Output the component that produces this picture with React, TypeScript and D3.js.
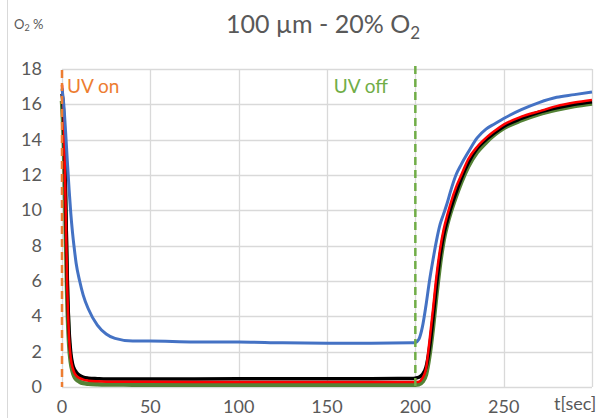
import React, { useEffect, useRef } from "react";
import * as d3 from "d3";

// time points (sec) shared by all four series
const times = [
  0, 1, 2, 3, 4, 5, 6, 7, 8, 10, 12, 15, 20, 25, 30, 40, 50, 75, 100, 125, 150, 175, 198, 200, 202,
  204, 206, 208, 210, 212, 214, 216, 218, 220, 223, 226, 230, 235, 240, 245, 250, 260, 270, 280, 290,
  300,
];

const blueVals = [
  16.9, 16.0, 14.5, 12.8, 11.2, 9.8, 8.7, 7.8, 7.0, 6.0, 5.2, 4.4, 3.5, 3.0, 2.75, 2.6, 2.6, 2.55,
  2.55, 2.5, 2.48, 2.48, 2.5, 2.52, 2.7, 3.4, 4.6, 6.0, 7.2, 8.3, 9.2, 9.8, 10.4, 11.1, 12.0, 12.6,
  13.3, 14.1, 14.6, 14.9, 15.2, 15.7, 16.1, 16.4, 16.55, 16.7,
];
const redVals = [
  17.1, 15.2, 10.5, 5.5, 2.8, 1.6, 1.1, 0.8, 0.65, 0.5, 0.42, 0.36, 0.32, 0.3, 0.3, 0.3, 0.3, 0.29,
  0.28, 0.28, 0.28, 0.28, 0.28, 0.28, 0.3, 0.5, 1.0, 2.6, 4.4, 6.3, 7.8, 8.9, 9.7, 10.4, 11.3, 12.0,
  12.9, 13.6, 14.1, 14.5, 14.85, 15.3, 15.6, 15.9, 16.1, 16.25,
];
const blackVals = [
  16.6, 15.3, 11.0, 6.0, 3.2, 1.9, 1.3, 1.0, 0.85, 0.65, 0.55, 0.5, 0.47, 0.45, 0.45, 0.45, 0.45,
  0.45, 0.46, 0.46, 0.47, 0.47, 0.48, 0.5, 0.55, 0.7, 1.1, 2.2, 3.9, 5.8, 7.4, 8.6, 9.4, 10.1, 11.0,
  11.8, 12.7, 13.5, 14.0, 14.4, 14.75, 15.2, 15.55, 15.8, 16.0, 16.15,
];
const greenVals = [
  16.2, 14.0, 9.5, 5.0, 2.5, 1.4, 0.9, 0.6, 0.45, 0.3, 0.22, 0.18, 0.15, 0.14, 0.14, 0.13, 0.13,
  0.13, 0.13, 0.13, 0.13, 0.13, 0.13, 0.13, 0.15, 0.3, 0.7, 1.8, 3.4, 5.3, 7.0, 8.3, 9.2, 9.9, 10.8,
  11.6, 12.5, 13.3, 13.85, 14.3, 14.65, 15.1, 15.45, 15.7, 15.9, 16.05,
];

const yTicks = [0, 2, 4, 6, 8, 10, 12, 14, 16, 18];
const xTicks = [0, 50, 100, 150, 200, 250];
const xGrid = [0, 50, 100, 150, 200, 250, 300];

const W = 604;
const H = 418;
const FONT = "Lato, 'Open Sans', sans-serif";

export default function App() {
  const ref = useRef(null);

  useEffect(() => {
    const svg = d3.select(ref.current);
    svg.selectAll("*").remove();

    const x = d3.scaleLinear().domain([0, 300]).range([62, 592]);
    const y = d3.scaleLinear().domain([0, 18]).range([387, 69]);

    // outer chart border (left edge visible)
    svg
      .append("line")
      .attr("x1", 7.5)
      .attr("x2", 7.5)
      .attr("y1", 0)
      .attr("y2", H)
      .attr("stroke", "#d9d9d9")
      .attr("stroke-width", 1);

    // gridlines
    svg
      .append("g")
      .selectAll("line")
      .data(yTicks)
      .join("line")
      .attr("x1", x(0))
      .attr("x2", x(300))
      .attr("y1", (d) => Math.round(y(d)) + 0.5)
      .attr("y2", (d) => Math.round(y(d)) + 0.5)
      .attr("stroke", "#d9d9d9")
      .attr("stroke-width", 1.3);
    svg
      .append("g")
      .selectAll("line")
      .data(xGrid)
      .join("line")
      .attr("x1", (d) => Math.round(x(d)) + 0.5)
      .attr("x2", (d) => Math.round(x(d)) + 0.5)
      .attr("y1", y(18))
      .attr("y2", y(0))
      .attr("stroke", "#d9d9d9")
      .attr("stroke-width", 1.3);

    // tick labels
    svg
      .append("g")
      .selectAll("text")
      .data(yTicks)
      .join("text")
      .attr("x", 42)
      .attr("y", (d) => y(d) + 6)
      .attr("text-anchor", "end")
      .attr("font-family", FONT)
      .attr("font-size", 18)
      .attr("fill", "#595959")
      .text((d) => d);
    svg
      .append("g")
      .selectAll("text")
      .data(xTicks)
      .join("text")
      .attr("x", (d) => x(d))
      .attr("y", 413)
      .attr("text-anchor", "middle")
      .attr("font-family", FONT)
      .attr("font-size", 18)
      .attr("fill", "#595959")
      .text((d) => d);

    svg
      .append("text")
      .attr("x", 554)
      .attr("y", 410)
      .attr("font-family", FONT)
      .attr("font-size", 18)
      .attr("fill", "#595959")
      .text("t[sec]");

    // y label O2 %
    const yl = svg
      .append("text")
      .attr("x", 14)
      .attr("y", 29)
      .attr("font-family", FONT)
      .attr("font-size", 13)
      .attr("fill", "#595959");
    yl.append("tspan").text("O");
    yl.append("tspan").attr("font-size", 9).attr("dy", 2).text("2");
    yl.append("tspan").attr("dy", -2).text(" %");

    // title
    const title = svg
      .append("text")
      .attr("x", 323)
      .attr("y", 33)
      .attr("text-anchor", "middle")
      .attr("font-family", FONT)
      .attr("font-size", 25)
      .attr("fill", "#595959");
    title.append("tspan").text("100 µm - 20% O");
    title.append("tspan").attr("font-size", 17).attr("dy", 6).text("2");

    // series
    const series = [
      { vals: greenVals, color: "#548235", w: 4.5 },
      { vals: blackVals, color: "#000000", w: 3.5 },
      { vals: redVals, color: "#ff0000", w: 2.5 },
      { vals: blueVals, color: "#4472c4", w: 3 },
    ];
    const line = d3
      .line<number>()
      .x((d, i) => x(times[i]))
      .y((d) => y(d))
      .curve(d3.curveMonotoneX);
    svg
      .append("g")
      .selectAll("path")
      .data(series)
      .join("path")
      .attr("d", (s) => line(s.vals))
      .attr("fill", "none")
      .attr("stroke", (s) => s.color)
      .attr("stroke-width", (s) => s.w)
      .attr("stroke-linejoin", "round");

    // UV markers
    svg
      .append("line")
      .attr("x1", x(0))
      .attr("x2", x(0))
      .attr("y1", 70)
      .attr("y2", y(0))
      .attr("stroke", "#ed7d31")
      .attr("stroke-width", 2.5)
      .attr("stroke-dasharray", "8,5");
    svg
      .append("line")
      .attr("x1", x(200))
      .attr("x2", x(200))
      .attr("y1", 66)
      .attr("y2", y(0))
      .attr("stroke", "#70ad47")
      .attr("stroke-width", 2.5)
      .attr("stroke-dasharray", "8,5");

    svg
      .append("text")
      .attr("x", 67)
      .attr("y", 93)
      .attr("font-family", FONT)
      .attr("font-size", 19)
      .attr("fill", "#ed7d31")
      .text("UV on");
    svg
      .append("text")
      .attr("x", 388)
      .attr("y", 93)
      .attr("text-anchor", "end")
      .attr("font-family", FONT)
      .attr("font-size", 19)
      .attr("fill", "#70ad47")
      .text("UV off");
  }, []);

  return (
    <svg
      ref={ref}
      width={W}
      height={H}
      style={{ position: "absolute", left: 0, top: 0, background: "#fff" }}
    ></svg>
  );
}
